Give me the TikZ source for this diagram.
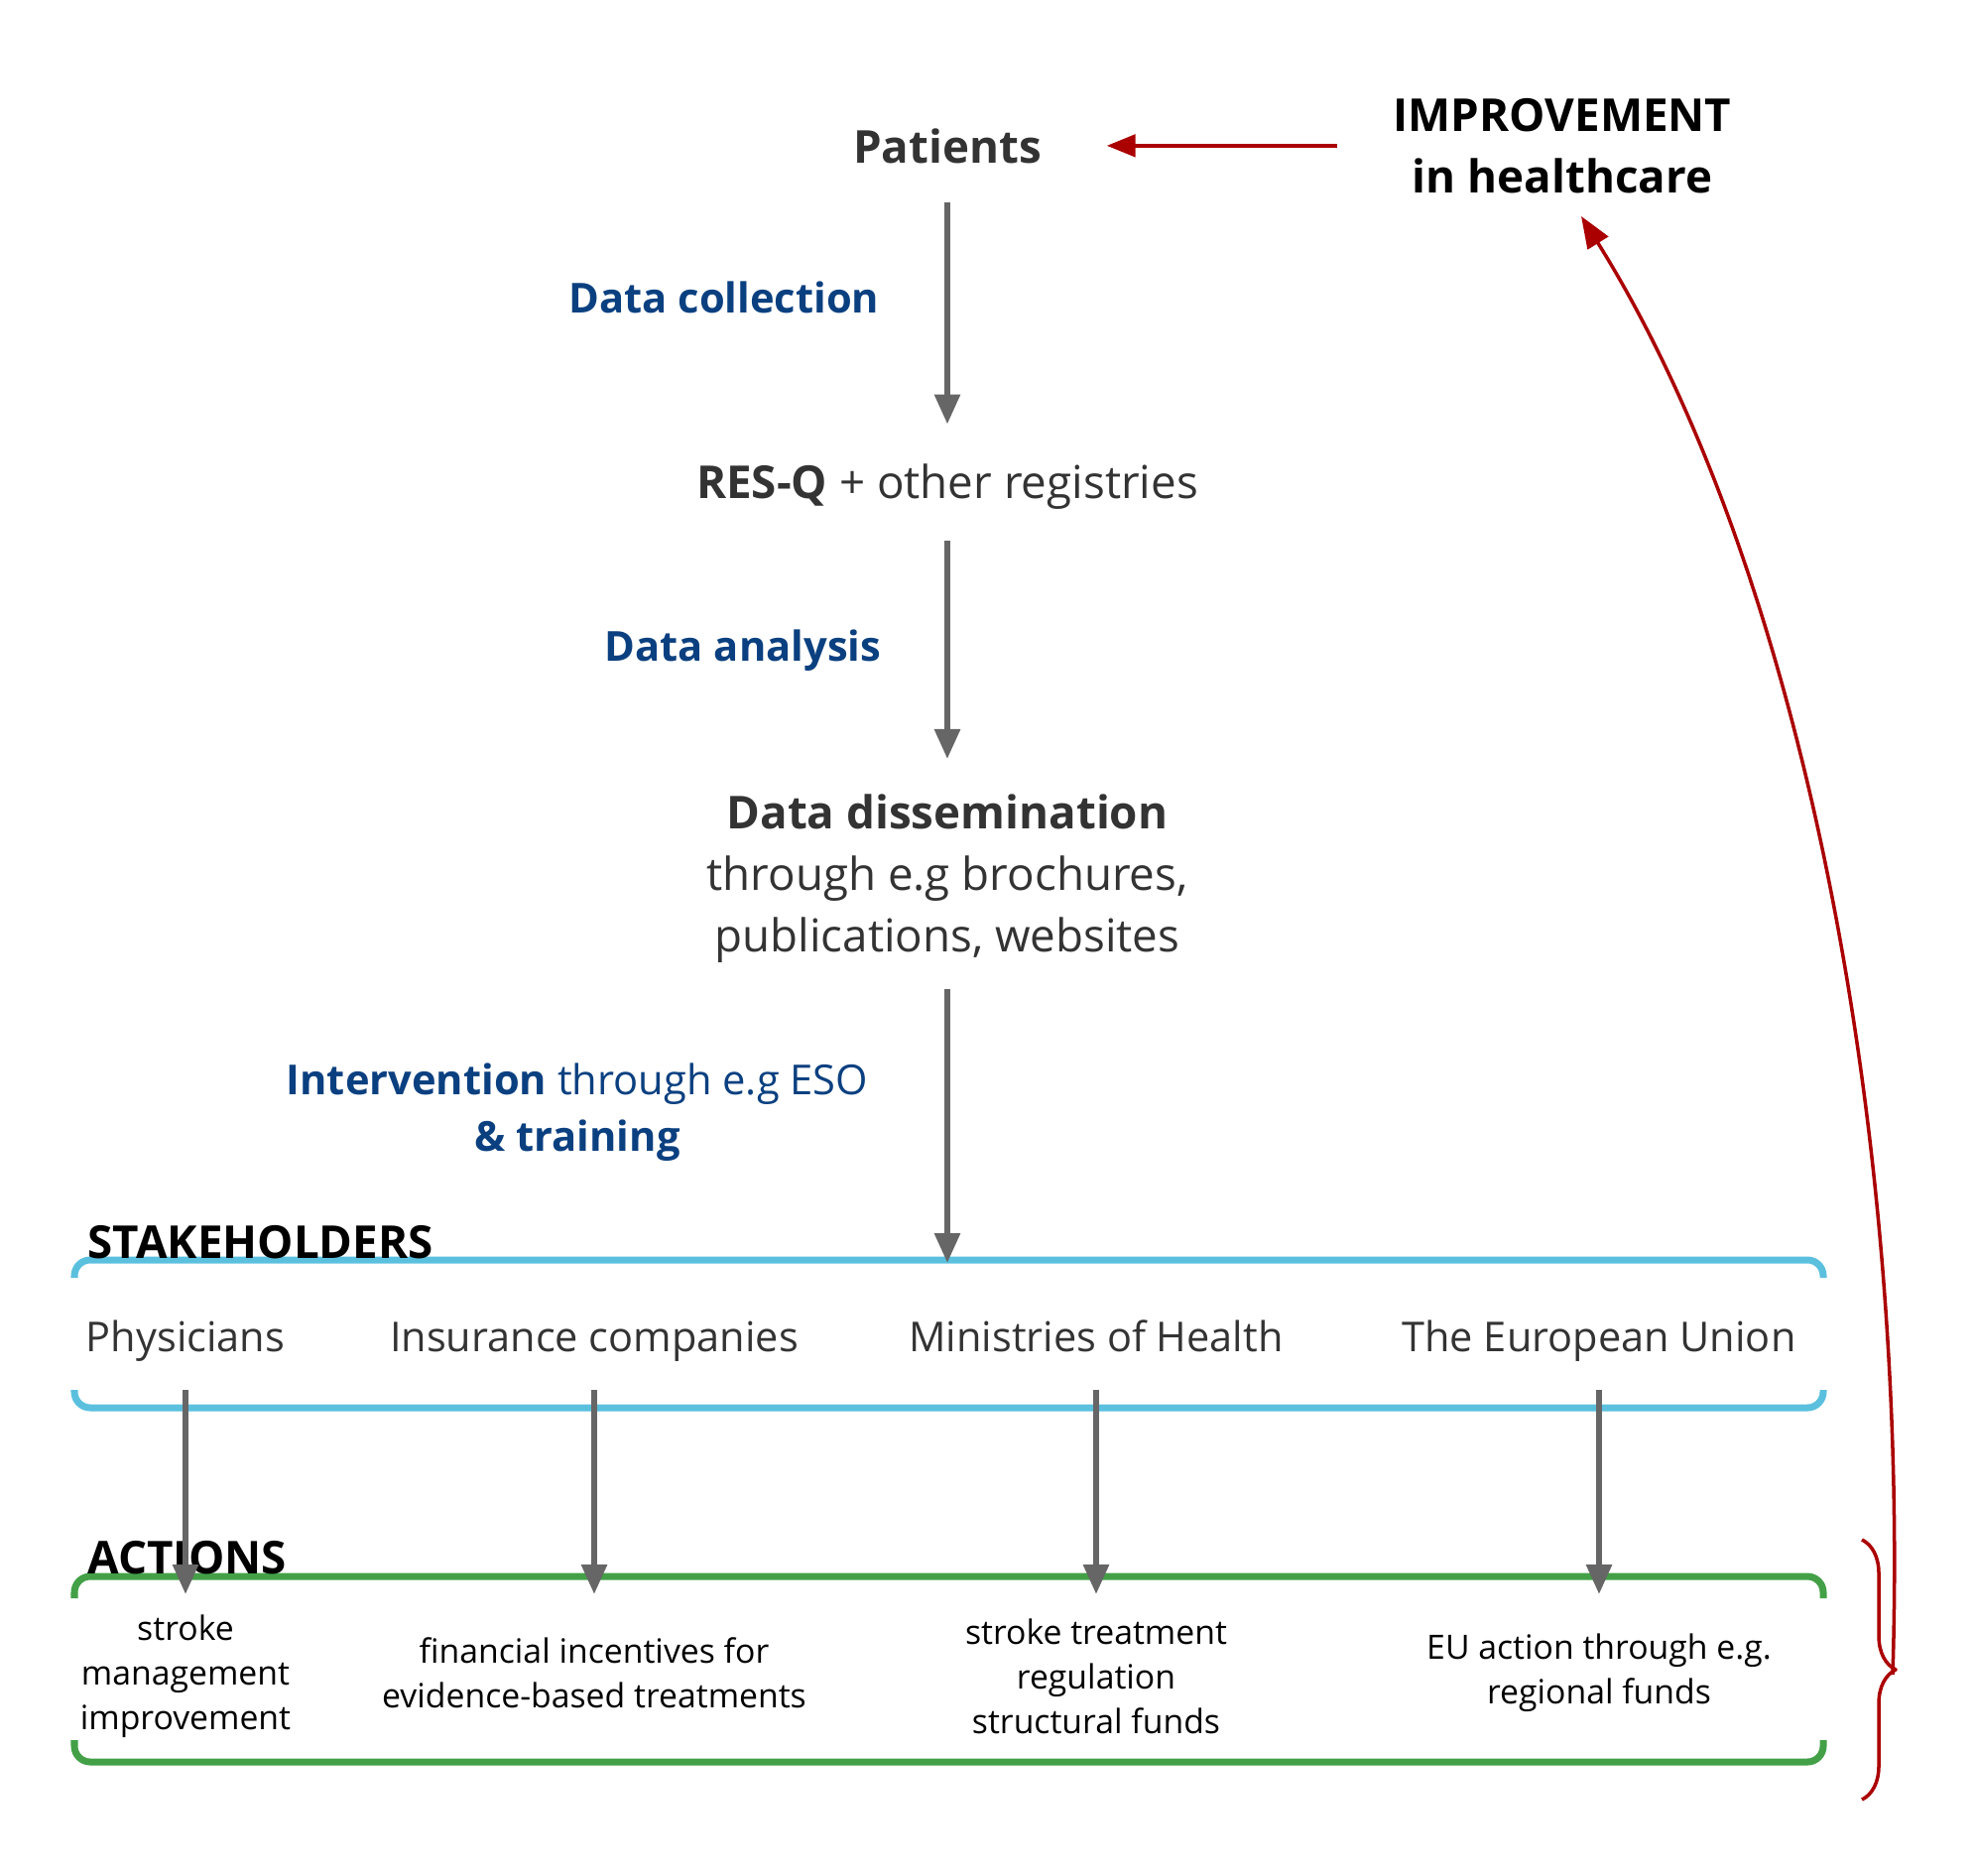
\documentclass[tikz,border=0pt]{standalone}
\usepackage{fontspec}
\setmainfont{Open Sans}
\usetikzlibrary{arrows.meta,decorations.pathreplacing}
\definecolor{txtgray}{HTML}{333333}
\definecolor{arrowgray}{HTML}{666666}
\definecolor{resqblue}{HTML}{0B4080}
\definecolor{boxblue}{HTML}{5BC0DE}
\definecolor{boxgreen}{HTML}{43A047}
\definecolor{darkred}{HTML}{AA0000}
\begin{document}
\begin{tikzpicture}[x=0.01cm, y=-0.01cm, line join=round,
	txt/.style={inner sep=0pt, text=txtgray, align=center, font=\fontsize{13}{17.6}\selectfont},
	bluelbl/.style={txt, text=resqblue, font=\fontsize{11.85}{16.2}\selectfont},
	holder/.style={txt, font=\fontsize{11.8}{15}\selectfont},
	act/.style={txt, text=black, font=\fontsize{9.6}{12.8}\selectfont},
	flow/.style={-{Triangle[length=3mm,width=2.5mm]}, draw=arrowgray, line width=0.6mm},
	feedback/.style={draw=darkred, -{Triangle[length=2.9mm,width=2.2mm]}}]
	\def\xl{75} \def\xr{1838}
	\useasboundingbox (0,0) rectangle (1991,1890);
	% stakeholder and action frames
	\draw[boxblue, line width=0.7mm, rounded corners=1.6mm] (\xl,1288)--(\xl,1270)--(\xr,1270)--(\xr,1288)
	(\xl,1401)--(\xl,1419)--(\xr,1419)--(\xr,1401);
	\draw[boxgreen, line width=0.7mm, rounded corners=1.6mm] (\xl,1611)--(\xl,1589)--(\xr,1589)--(\xr,1611)
	(\xl,1754)--(\xl,1776)--(\xr,1776)--(\xr,1754);
	\node[txt] (patients) at (955,164) [anchor=base] {\textbf{Patients}};
	\node[txt, text=black] (improve) at (1575,99) [anchor=north] {\textbf{IMPROVEMENT}\\\textbf{in healthcare}};
	\node[bluelbl] (collect) at (730,300) {\textbf{Data collection}};
	\node[txt] (resq) at (955,502) [anchor=base] {\textbf{RES-Q} + other registries};
	\node[bluelbl] (analysis) at (749,656) {\textbf{Data analysis}};
	\node[txt] (dissem) at (955,800) [anchor=north] {\textbf{Data dissemination}\\through e.g brochures,\\publications, websites};
	\node[bluelbl] (interv) at (582,1071) [anchor=north] {\textbf{Intervention} through e.g ESO\\\textbf{\& training}};
	\node[txt, text=black] (stakeh) at (88,1268) [anchor=base west] {\textbf{STAKEHOLDERS}};
	\node[txt, text=black] (actions) at (88,1586) [anchor=base west] {\textbf{ACTIONS}};
	\foreach \n/\x/\name in {1/187/Physicians, 2/599/Insurance companies, 3/1105/Ministries of Health, 4/1612/The European Union}{
		\node[holder] (s\n) at (\x,1362) [anchor=base] {\name};
		\coordinate (t\n) at (\x,1607);
	}
	\foreach \n/\x/\y/\what in {1/187/1690/{stroke\\management\\improvement}, 2/599/1686/{financial incentives for\\evidence-based treatments},
		3/1105/1690/{stroke treatment\\regulation\\structural funds}, 4/1612/1686/{EU action through e.g.\\regional funds}}
		\node[act] (a\n) at (\x,\y) {\what};
	\coordinate (stk) at (955,1273);
	% main flow
	\draw[flow, shorten <=3.9mm, shorten >=3.9mm] (patients) -- (resq);
	\draw[flow, shorten <=3.1mm, shorten >=3.5mm] (resq) -- (dissem);
	\draw[flow, shorten <=2.6mm] (dissem) -- (stk);
	\foreach \n in {1,...,4}
		\draw[flow, shorten <=3.9mm] (s\n.base) -- (t\n);
	% feedback loop
	\draw[darkred, line width=0.35mm, decorate, decoration={brace, amplitude=3.4mm}] (1877,1552) -- (1877,1814);
	\coordinate (bracetip) at (1908,1688);
	\draw[feedback, line width=0.47mm, shorten <=5.6mm, shorten >=6.5mm] (patients.east -| improve.west) -- (patients.east);
	\draw[feedback, line width=0.35mm, -{Triangle[length=3.2mm,width=2.4mm]}] (bracetip) .. controls (1925,1150) and (1820,580) .. ([xshift=1.9mm,yshift=-2.2mm]improve.south);
\end{tikzpicture}
\end{document}
